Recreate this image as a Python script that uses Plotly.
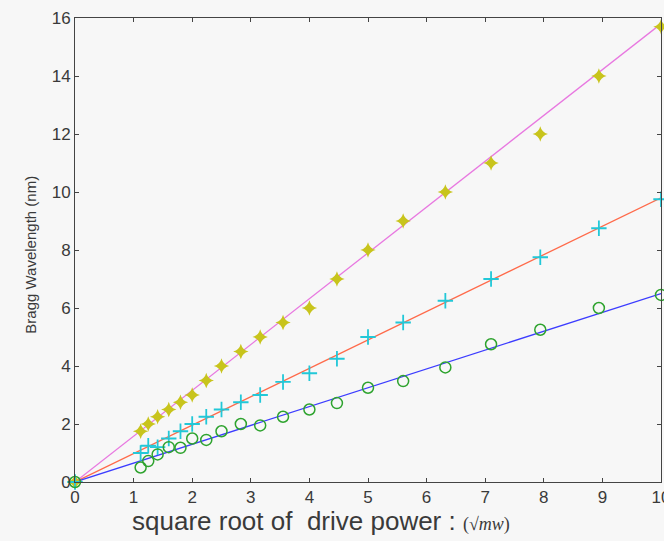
import plotly.graph_objects as go

# ---- data ----
x_vals = [0, 1.12, 1.25, 1.41, 1.6, 1.8, 2.0, 2.24, 2.5, 2.83, 3.16, 3.55, 4.0, 4.47, 5.0, 5.6, 6.32, 7.1, 7.94, 8.94, 10.0]
y_star = [0, 1.75, 2.0, 2.25, 2.5, 2.75, 3.0, 3.5, 4.0, 4.5, 5.0, 5.5, 6.0, 7.0, 8.0, 9.0, 10.0, 11.0, 12.0, 14.0, 15.7]
y_plus = [0, 1.0, 1.25, 1.2, 1.5, 1.75, 2.0, 2.25, 2.5, 2.75, 3.0, 3.45, 3.75, 4.25, 5.0, 5.5, 6.25, 7.0, 7.75, 8.75, 9.75]
y_circ = [0, 0.5, 0.72, 0.95, 1.2, 1.18, 1.5, 1.45, 1.75, 2.0, 1.95, 2.25, 2.5, 2.72, 3.25, 3.48, 3.95, 4.75, 5.25, 6.0, 6.45]

fit_x = [0, 10]
fit_pink = [0, 15.8]
fit_red = [0, 9.8]
fit_blue = [0, 6.5]

x_ticks = [0, 1, 2, 3, 4, 5, 6, 7, 8, 9, 10]
y_ticks = [0, 2, 4, 6, 8, 10, 12, 14, 16]

BG = "#f7f7f7"
fig = go.Figure()

fig.add_trace(go.Scatter(x=fit_x, y=fit_pink, mode="lines", cliponaxis=False,
                         line=dict(color="#e878e0", width=1.3), showlegend=False))
fig.add_trace(go.Scatter(x=fit_x, y=fit_red, mode="lines", cliponaxis=False,
                         line=dict(color="#ff6a4a", width=1.3), showlegend=False))
fig.add_trace(go.Scatter(x=fit_x, y=fit_blue, mode="lines", cliponaxis=False,
                         line=dict(color="#3c3cff", width=1.3), showlegend=False))

fig.add_trace(go.Scatter(x=x_vals, y=y_star, mode="markers", cliponaxis=False,
                         marker=dict(symbol="star-diamond", size=11, color="#c8c41c",
                                     line=dict(width=0)), showlegend=False))
fig.add_trace(go.Scatter(x=x_vals, y=y_plus, mode="markers", cliponaxis=False,
                         marker=dict(symbol="cross-thin", size=11,
                                     line=dict(color="#22c8d8", width=1.8)), showlegend=False))
fig.add_trace(go.Scatter(x=x_vals, y=y_circ, mode="markers", cliponaxis=False,
                         marker=dict(symbol="circle-open", size=11, color="#2ea32e",
                                     line=dict(width=1.5)), showlegend=False))

axis_common = dict(
    showgrid=False, zeroline=False, showline=True, linecolor="#444444", linewidth=1,
    mirror="ticks", ticks="inside", ticklen=4, tickcolor="#444444", tickwidth=1,
    automargin=False,
    tickfont=dict(family="Liberation Sans, Arial, sans-serif", size=17, color="#3a3a3a"),
)

fig.update_layout(
    width=664, height=541,
    margin=dict(l=75, r=3, t=18, b=59, autoexpand=False),
    paper_bgcolor=BG, plot_bgcolor=BG,
    xaxis=dict(range=[0, 10], tickvals=x_ticks, ticktext=[str(v) for v in x_ticks],
               ticklabeloverflow="allow", **axis_common),
    yaxis=dict(range=[0, 16], tickvals=y_ticks, ticktext=[str(v) for v in y_ticks], **axis_common),
    annotations=[
        dict(text="Bragg Wavelength (nm)", xref="paper", yref="paper",
             x=-0.075, y=0.49, textangle=-90, showarrow=False,
             xanchor="center", yanchor="middle",
             font=dict(family="Liberation Sans, Arial, sans-serif", size=15, color="#3a3a3a")),
        dict(text="square root of  drive power : <span style='font-family:Liberation Serif, Times New Roman, serif;font-size:18px'>(√<i>mw</i>)</span>",
             xref="paper", yref="paper", x=0.094, y=-0.085, showarrow=False,
             xanchor="left", yanchor="middle",
             font=dict(family="Liberation Sans, Arial, sans-serif", size=26, color="#3a3a3a")),
    ],
)

fig.write_html("out.html", config={"displayModeBar": False},
               post_script="document.body.style.margin='0';document.body.style.padding='0';document.body.style.overflow='hidden';")
